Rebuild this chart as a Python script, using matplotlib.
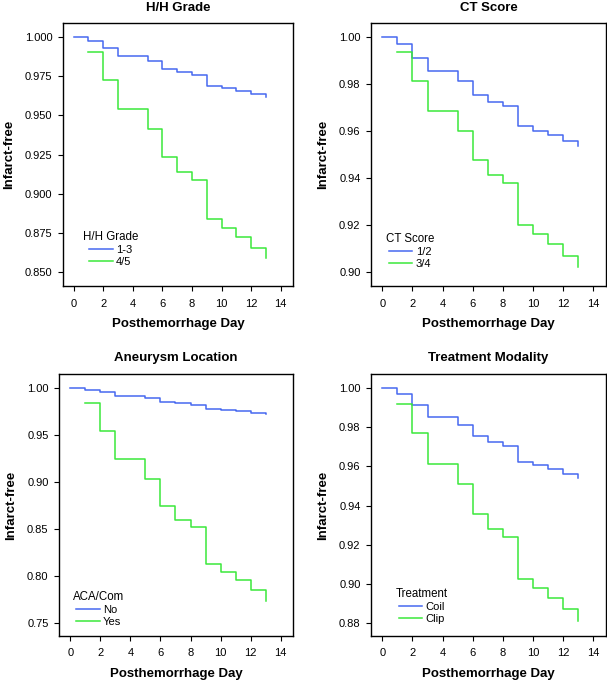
"""Kaplan-Meier style infarct-free curves by four risk factors."""

import matplotlib
matplotlib.use("Agg")
import matplotlib.pyplot as plt

plt.rcParams["font.family"] = ["Liberation Sans", "DejaVu Sans"]

BLUE = "#4768f0"
GREEN = "#3be83b"

# days 0..13 for the reference group, 1..13 for the higher-risk group
days_ref = list(range(0, 14))
days_risk = list(range(1, 14))

hh_low = [1.000, 0.9974, 0.993, 0.9879, 0.9879, 0.9847, 0.9798, 0.9774,
          0.976, 0.969, 0.9674, 0.9657, 0.9634, 0.9617]
hh_high = [0.9904, 0.9726, 0.954, 0.954, 0.9413, 0.9236, 0.914, 0.9091,
           0.8838, 0.8783, 0.8725, 0.8657, 0.8589]

ct_low = [1.000, 0.997, 0.9913, 0.9857, 0.9857, 0.9813, 0.9756, 0.9723,
          0.9708, 0.9623, 0.9603, 0.9584, 0.956, 0.9539]
ct_high = [0.9935, 0.9814, 0.9687, 0.9687, 0.9599, 0.9478, 0.9413, 0.9379,
           0.920, 0.9162, 0.912, 0.9071, 0.9024]

loc_no = [1.000, 0.9982, 0.9954, 0.9915, 0.9915, 0.989, 0.9855, 0.9837,
          0.9823, 0.9773, 0.9762, 0.9752, 0.9738, 0.9723]
loc_yes = [0.984, 0.9546, 0.9241, 0.9241, 0.9032, 0.8748, 0.860, 0.8521,
           0.8128, 0.8046, 0.7957, 0.7855, 0.7738]

tx_coil = [1.000, 0.9971, 0.9913, 0.9854, 0.9854, 0.9813, 0.9753, 0.9723,
           0.9706, 0.9624, 0.9607, 0.9585, 0.9561, 0.954]
tx_clip = [0.9918, 0.977, 0.9614, 0.9614, 0.9508, 0.9358, 0.928, 0.9239,
           0.9025, 0.8979, 0.8929, 0.8871, 0.8814]

panels = [
    ("H/H Grade", "H/H Grade", ["1-3", "4/5"], hh_low, hh_high,
     [0.850, 0.875, 0.900, 0.925, 0.950, 0.975, 1.000], "%.3f",
     (0.8413, 1.0089), (-0.72, 14.83)),
    ("CT Score", "CT Score", ["1/2", "3/4"], ct_low, ct_high,
     [0.90, 0.92, 0.94, 0.96, 0.98, 1.00], "%.2f",
     (0.8942, 1.006), (-0.75, 14.84)),
    ("Aneurysm Location", "ACA/Com", ["No", "Yes"], loc_no, loc_yes,
     [0.75, 0.80, 0.85, 0.90, 0.95, 1.00], "%.2f",
     (0.7365, 1.0149), (-0.75, 14.82)),
    ("Treatment Modality", "Treatment", ["Coil", "Clip"], tx_coil, tx_clip,
     [0.88, 0.90, 0.92, 0.94, 0.96, 0.98, 1.00], "%.2f",
     (0.8735, 1.00715), (-0.75, 14.84)),
]

W, H = 607, 680
# axes boxes in pixels: left, right, top, bottom
boxes = [(63, 293, 23, 286), (371, 606, 23, 286),
         (59, 293, 374, 636), (371, 606, 374, 636)]
# legend anchor (left px, px above axes bottom)
legend_pos = [(83, 19), (386, 17), (73, 9), (396, 12)]

fig = plt.figure(figsize=(W / 100, H / 100), dpi=100)

for (title, leg_title, labels, ref, risk, yticks, fmt, ylim, xlim), box, lp in zip(
        panels, boxes, legend_pos):
    l, r, t, b = box
    ax = fig.add_axes([l / W, 1 - b / H, (r - l) / W, (b - t) / H])
    ax.step(days_ref, ref, where="post", color=BLUE, lw=1.1, label=labels[0])
    ax.step(days_risk, risk, where="post", color=GREEN, lw=1.1, label=labels[1])

    ax.set_xlim(*xlim)
    ax.set_ylim(*ylim)
    ax.set_xticks(range(0, 15, 2))
    ax.set_yticks(yticks)
    ax.set_yticklabels([fmt % v for v in yticks])
    ax.tick_params(direction="out", length=3.5, width=0.8, labelsize=8,
                   top=False, right=False, pad=4)
    ax.tick_params(axis="x", pad=5.5)
    for s in ax.spines.values():
        s.set_linewidth(1.0)

    ax.set_title(title, fontsize=9.5, fontweight="bold", pad=9)
    ax.set_xlabel("Posthemorrhage Day", fontsize=9.5, fontweight="bold", labelpad=7)
    ax.set_ylabel("Infarct-free", fontsize=9.5, fontweight="bold", labelpad=7)

    ax.legend(title=leg_title, loc="lower left", frameon=False,
              fontsize=8, title_fontsize=8.3, handlelength=2.1,
              handletextpad=0.3, labelspacing=0.2, borderpad=0,
              borderaxespad=0,
              bbox_to_anchor=((lp[0] - l) / (r - l), lp[1] / (b - t)))

fig.savefig("out.png", dpi=100)
